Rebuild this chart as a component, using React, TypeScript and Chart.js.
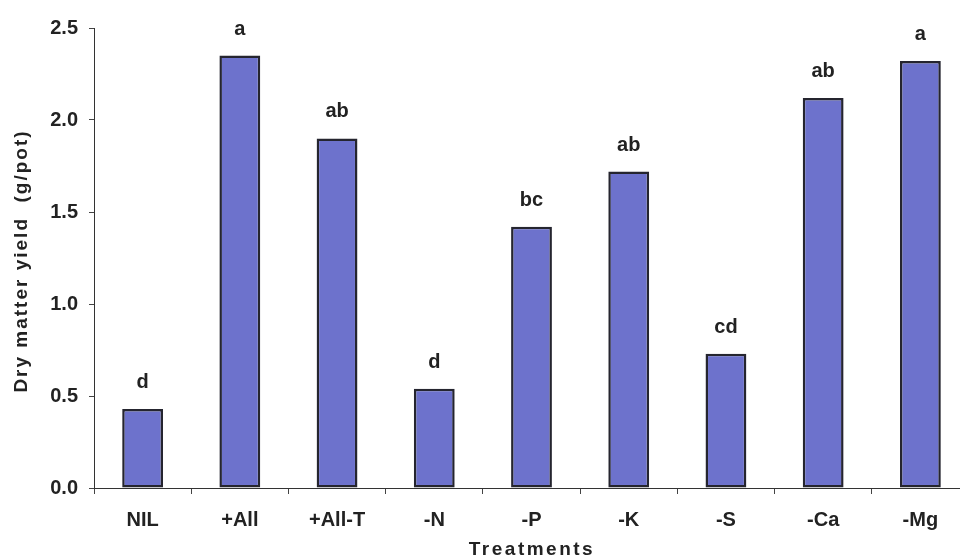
import React, { useEffect, useRef } from "react";
import { Chart, registerables } from "chart.js";

Chart.register(...registerables);

const categories = ["NIL", "+All", "+All-T", "-N", "-P", "-K", "-S", "-Ca", "-Mg"];
const yieldValues = [0.43, 2.35, 1.9, 0.54, 1.42, 1.72, 0.73, 2.12, 2.32];
const letters = ["d", "a", "ab", "d", "bc", "ab", "cd", "ab", "a"];
const yTicks = [0, 0.5, 1.0, 1.5, 2.0, 2.5];

const FONT = "'Liberation Sans', Arial, sans-serif";

const labelPlugin = {
  id: "barLetters",
  afterDatasetsDraw(chart: any) {
    const ctx = chart.ctx;
    const meta = chart.getDatasetMeta(0);
    ctx.save();
    ctx.fillStyle = "#222";
    ctx.font = `bold 20px ${FONT}`;
    ctx.textAlign = "center";
    ctx.textBaseline = "alphabetic";
    meta.data.forEach((bar: any, i: number) => {
      ctx.fillText(letters[i], bar.x, bar.y - 21);
    });
    // axis titles
    ctx.font = `bold 19px ${FONT}`;
    (ctx as any).letterSpacing = "2.5px";
    ctx.textBaseline = "middle";
    ctx.fillText("Treatments", 532, 550);
    (ctx as any).letterSpacing = "2px";
    ctx.translate(22, 261);
    ctx.rotate(-Math.PI / 2);
    ctx.fillText("Dry matter yield  (g/pot)", 0, 0);
    ctx.restore();
  },
};

export default function App() {
  const ref = useRef<HTMLCanvasElement | null>(null);
  useEffect(() => {
    if (!ref.current) return;
    const chart = new Chart(ref.current, {
      type: "bar",
      data: {
        labels: categories,
        datasets: [
          {
            data: yieldValues,
            backgroundColor: "#6d72cc",
            borderColor: "#25252f",
            borderWidth: 2.5,
            borderSkipped: false,
            barPercentage: 0.42,
            categoryPercentage: 1,
          },
        ],
      },
      options: {
        animation: false,
        responsive: false,
        maintainAspectRatio: false,
        layout: { padding: { top: 28, right: 6, left: 0, bottom: 0 } },
        plugins: { legend: { display: false }, tooltip: { enabled: false } },
        scales: {
          x: {
            grid: {
              display: true,
              drawOnChartArea: false,
              offset: true,
              tickLength: 6,
              color: "#444",
            },
            border: { display: true, color: "#333", width: 1 },
            ticks: {
              color: "#222",
              font: { family: FONT, size: 20, weight: "bold" },
              padding: 14,
              maxRotation: 0,
            },
            afterFit(scale: any) {
              scale.height = 71;
            },
          },
          y: {
            min: 0,
            max: 2.5,
            afterBuildTicks(scale: any) {
              scale.ticks = yTicks.map((v) => ({ value: v }));
            },
            grid: {
              display: true,
              drawOnChartArea: false,
              tickLength: 5,
              color: "#444",
            },
            border: { display: true, color: "#333", width: 1 },
            ticks: {
              color: "#222",
              font: { family: FONT, size: 20, weight: "bold" },
              padding: 11,
              callback: (v: any) => Number(v).toFixed(1),
            },
            afterFit(scale: any) {
              scale.width = 94;
            },
          },
        },
      },
      plugins: [labelPlugin],
    });
    return () => chart.destroy();
  }, []);
  return (
    <div
      style={{
        position: "fixed",
        left: 0,
        top: 0,
        width: 960,
        height: 559,
        overflow: "hidden",
        background: "#fff",
      }}
    >
      <canvas ref={ref} width={975} height={559} style={{ width: 975, height: 559, display: "block" }} />
    </div>
  );
}
